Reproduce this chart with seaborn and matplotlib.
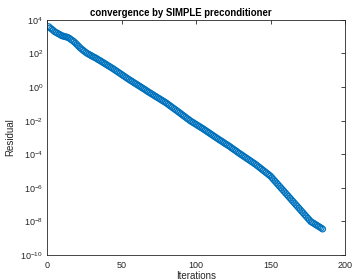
import numpy as np
import pandas as pd
import matplotlib
matplotlib.use('Agg')
import matplotlib.pyplot as plt
import seaborn as sns
from matplotlib.ticker import NullLocator

# Residual history (log10 of residual per iteration)
iterations = list(range(1, 186))
residual_log10 = [
    3.60, 3.52, 3.45, 3.38, 3.30,
    3.25, 3.20, 3.15, 3.10, 3.05,
    3.03, 3.00, 2.98, 2.95,
    2.90, 2.83, 2.77, 2.70,
    2.62, 2.53, 2.44, 2.35,
    2.27, 2.20, 2.13, 2.06, 2.00,
    1.95, 1.90, 1.85, 1.80, 1.76, 1.71, 1.65, 1.60,
    1.55, 1.49, 1.44, 1.38, 1.33, 1.27, 1.22, 1.16, 1.11, 1.05,
    0.99, 0.93, 0.87, 0.81, 0.75, 0.69, 0.63, 0.57, 0.51, 0.45,
    0.39, 0.34, 0.28, 0.22, 0.17, 0.11, 0.06, 0.00,
    -0.06, -0.11, -0.17, -0.23, -0.29, -0.34, -0.40,
    -0.45, -0.51, -0.56, -0.62, -0.67, -0.73, -0.78, -0.84, -0.89, -0.95,
    -1.01, -1.08, -1.14, -1.21, -1.27, -1.34, -1.40, -1.47, -1.53, -1.60,
    -1.67, -1.73, -1.80, -1.87, -1.93, -2.00,
    -2.06, -2.11, -2.17, -2.22, -2.28, -2.33, -2.39, -2.44, -2.50,
    -2.56, -2.62, -2.68, -2.74, -2.80, -2.86, -2.92, -2.98, -3.04, -3.10,
    -3.16, -3.21, -3.27, -3.33, -3.39, -3.44, -3.50,
    -3.56, -3.63, -3.69, -3.75, -3.81, -3.88, -3.94, -4.00,
    -4.06, -4.12, -4.18, -4.24, -4.30, -4.36, -4.42, -4.48, -4.54, -4.60,
    -4.67, -4.74, -4.81, -4.88, -4.95, -5.02, -5.09, -5.16, -5.23, -5.30,
    -5.40, -5.50, -5.60, -5.70, -5.80, -5.90, -6.00,
    -6.10, -6.20, -6.30, -6.40, -6.50, -6.60, -6.70, -6.80,
    -6.90, -7.00, -7.10, -7.20, -7.30, -7.40, -7.50,
    -7.60, -7.70, -7.80, -7.90, -8.00,
    -8.06, -8.11, -8.17, -8.22, -8.28, -8.33, -8.39, -8.45,
]
x_ticks = [0, 50, 100, 150, 200]
y_ticks = [1e-10, 1e-8, 1e-6, 1e-4, 1e-2, 1e0, 1e2, 1e4]

df = pd.DataFrame({'Iterations': iterations,
                   'Residual': np.power(10.0, residual_log10)})

sns.set_style('white')
plt.rcParams['font.family'] = ['Liberation Sans', 'DejaVu Sans']
plt.rcParams['mathtext.fontset'] = 'custom'
plt.rcParams['mathtext.rm'] = 'Liberation Sans'

axis_col = '#262626'
fig = plt.figure(figsize=(3.52, 2.80), dpi=100)
ax = fig.add_axes([0.134, 0.089, 0.846, 0.840])

sns.scatterplot(data=df, x='Iterations', y='Residual', ax=ax, marker='o',
                s=17, facecolors='none', edgecolor='#0072BD', linewidth=0.85)

ax.set_yscale('log')
ax.set_xlim(0, 200)
ax.set_ylim(1e-10, 1e4)
ax.set_xticks(x_ticks)
ax.set_yticks(y_ticks)
ax.yaxis.set_minor_locator(NullLocator())

ax.tick_params(direction='in', length=3, width=0.6, colors=axis_col,
               labelsize=6.5, top=True, right=True, pad=3)
ax.tick_params(axis='x', pad=4)
for sp in ax.spines.values():
    sp.set_color(axis_col)
    sp.set_linewidth(0.6)

ax.set_xlabel('Iterations', fontsize=7, color=axis_col, labelpad=1)
ax.set_ylabel('Residual', fontsize=7, color=axis_col, labelpad=4)
ax.set_title('convergence by SIMPLE preconditioner', fontsize=6.9,
             fontweight='bold', color='black', pad=3, x=0.448)

fig.savefig('out.png', dpi=100)
